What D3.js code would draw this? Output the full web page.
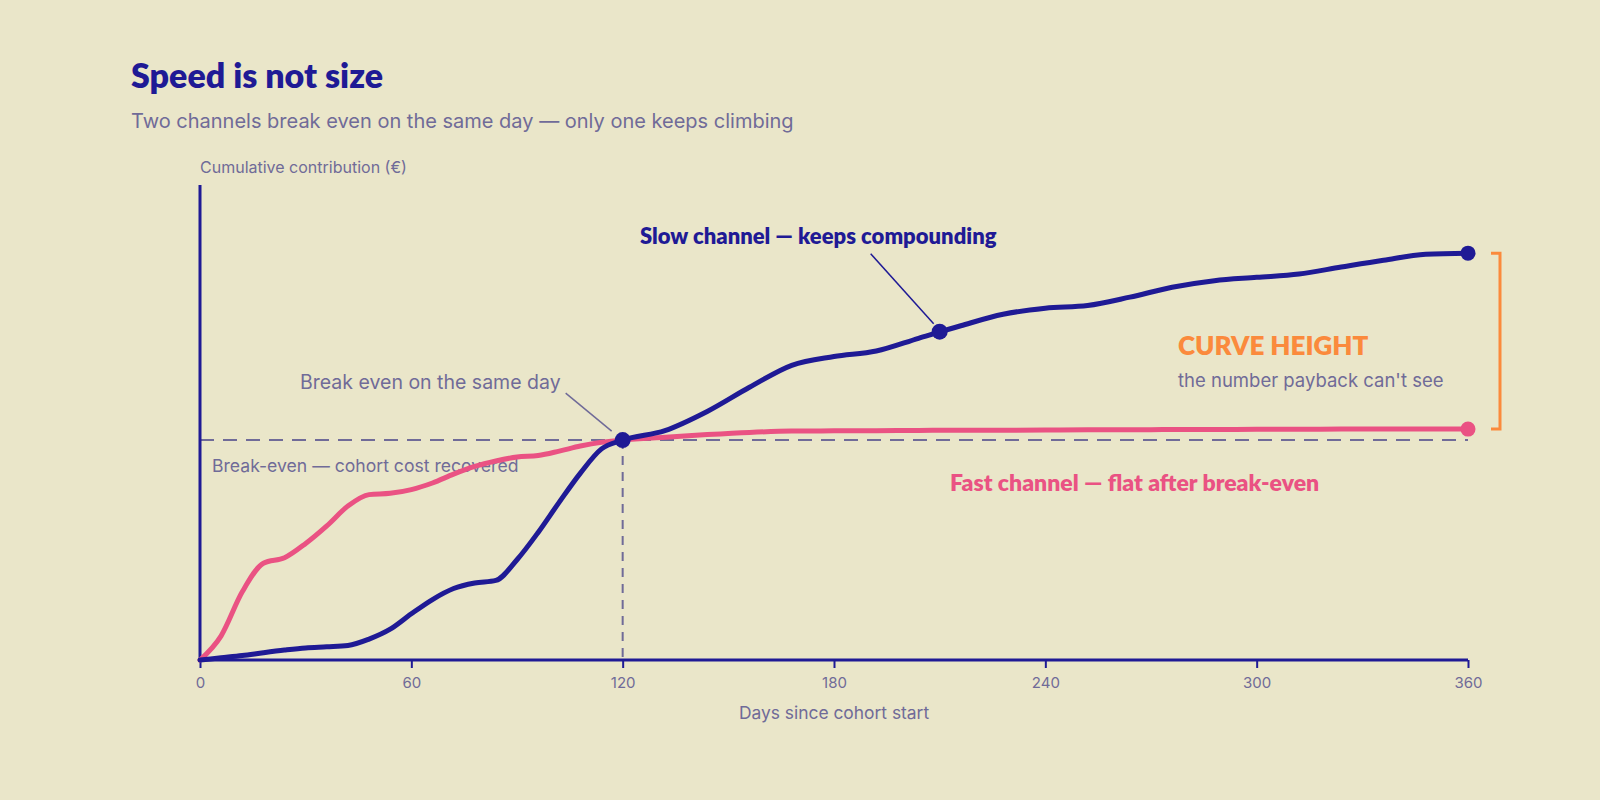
<!DOCTYPE html>
<html>
<head>
<meta charset="utf-8">
<script src="https://cdn.jsdelivr.net/npm/d3@7"></script>
<style>
  html, body { margin: 0; padding: 0; background: #eae6c9; }
  svg { display: block; font-family: "Inter", "Lato", sans-serif; }
  .bold { font-family: "Lato", sans-serif; font-weight: 800; }
</style>
</head>
<body>
<svg id="chart" width="1600" height="800"></svg>
<script>
// ---------- DATA ----------
const days = [0, 6, 12, 18, 24, 30, 36, 42, 48, 54, 60, 66, 72, 78, 84, 90, 96, 102, 108, 114, 120,
  132, 144, 156, 168, 180, 192, 204, 216, 228, 240, 252, 264, 276, 288, 300, 312, 324, 336, 348, 360];
const fastValues = [0, 11, 31, 44, 46.5, 53, 61, 70, 75.2, 75.8, 77.5, 80.5, 84.5, 88, 90.5, 92.3, 93, 95, 97.3, 99, 100,
  101.3, 102.5, 103.5, 104.1, 104.2, 104.3, 104.4, 104.5, 104.5, 104.6, 104.7, 104.7, 104.8, 104.8, 104.9, 104.9, 105, 105, 105, 105];
const slowValues = [0, 1, 2, 3.3, 4.5, 5.5, 6, 6.6, 9.5, 14, 21, 27.5, 32.5, 35, 36.2, 45.6, 58, 71.8, 85, 96, 100,
  104.3, 113, 124, 134, 138, 140.5, 146.3, 152, 157.2, 160, 161.2, 165, 169.5, 172.5, 174, 175.5, 178.7, 181.8, 184.5, 185];
const xTicks = [0, 60, 120, 180, 240, 300, 360];
const breakEvenValue = 100;
const breakEvenDay = 120;
const slowMarkerDay = 210;
const slowMarkerValue = 149.3;
const yMax = 216;

const titleText = "Speed is not size";
const subtitleText = "Two channels break even on the same day \u2014 only one keeps climbing";
const yAxisLabel = "Cumulative contribution (\u20AC)";
const xAxisLabel = "Days since cohort start";
const breakEvenLabel = "Break-even \u2014 cohort cost recovered";
const sameDayLabel = "Break even on the same day";
const slowLabel = "Slow channel \u2014 keeps compounding";
const fastLabel = "Fast channel \u2014 flat after break-even";
const gapTitle = "CURVE HEIGHT";
const gapSub = "the number payback can't see";

// ---------- STYLE ----------
const C = {
  bg: "#eae6c9", navy: "#1f1a95", pink: "#ea5283", orange: "#fb8a3c", gray: "#706b98"
};

const svg = d3.select("#chart");
svg.append("rect").attr("width", 1600).attr("height", 800).attr("fill", C.bg);

const m = { left: 200, right: 1468, top: 185, bottom: 660 };
const x = d3.scaleLinear().domain([0, 360]).range([m.left, m.right]);
const y = d3.scaleLinear().domain([0, yMax]).range([m.bottom, m.top]);

// Titles
svg.append("text").attr("class", "bold").attr("x", 131).attr("y", 88).text(titleText)
  .attr("font-size", 34).attr("fill", C.navy);
svg.append("text").attr("x", 131).attr("y", 128).text(subtitleText)
  .attr("font-size", 20).attr("fill", C.gray);
svg.append("text").attr("x", 200).attr("y", 173).text(yAxisLabel)
  .attr("font-size", 16).attr("fill", C.gray);

// Break-even dashed line
svg.append("line")
  .attr("x1", x(0)).attr("x2", x(360))
  .attr("y1", y(breakEvenValue)).attr("y2", y(breakEvenValue))
  .attr("stroke", C.gray).attr("stroke-width", 2).attr("stroke-dasharray", "14,9");
// Vertical dashed line at break-even day
svg.append("line")
  .attr("x1", x(breakEvenDay)).attr("x2", x(breakEvenDay))
  .attr("y1", y(breakEvenValue)).attr("y2", y(0))
  .attr("stroke", C.gray).attr("stroke-width", 2).attr("stroke-dasharray", "9,7");

svg.append("text").attr("x", 212).attr("y", 472).text(breakEvenLabel)
  .attr("font-size", 17.6).attr("fill", C.gray);

// Axes
const xAxis = d3.axisBottom(x).tickValues(xTicks).tickSize(8).tickPadding(9);
const gx = svg.append("g").attr("transform", `translate(0,${m.bottom})`).call(xAxis);
gx.select(".domain").attr("stroke", C.navy).attr("stroke-width", 3).attr("d", `M${m.left},0H${m.right}`);
gx.selectAll(".tick line").attr("stroke", C.navy).attr("stroke-width", 2);
gx.selectAll(".tick text").attr("fill", C.gray).attr("font-size", 15).attr("font-family", "Inter, sans-serif");

svg.append("line").attr("x1", m.left).attr("x2", m.left)
  .attr("y1", m.top).attr("y2", m.bottom + 1.5)
  .attr("stroke", C.navy).attr("stroke-width", 3);

svg.append("text").attr("x", (m.left + m.right) / 2).attr("y", 719)
  .attr("text-anchor", "middle").text(xAxisLabel)
  .attr("font-size", 17.4).attr("fill", C.gray);

// Lines
const line = d3.line().x(d => x(d[0])).y(d => y(d[1])).curve(d3.curveMonotoneX);
const fastData = days.map((d, i) => [d, fastValues[i]]);
const slowData = days.map((d, i) => [d, slowValues[i]]);

svg.append("path").datum(fastData).attr("d", line)
  .attr("fill", "none").attr("stroke", C.pink).attr("stroke-width", 5)
  .attr("stroke-linejoin", "round").attr("stroke-linecap", "round");
svg.append("path").datum(slowData).attr("d", line)
  .attr("fill", "none").attr("stroke", C.navy).attr("stroke-width", 5)
  .attr("stroke-linejoin", "round").attr("stroke-linecap", "round");

// End dots
svg.append("circle").attr("cx", x(360)).attr("cy", y(fastValues[fastValues.length - 1])).attr("r", 7.5).attr("fill", C.pink);
svg.append("circle").attr("cx", x(360)).attr("cy", y(slowValues[slowValues.length - 1])).attr("r", 7.5).attr("fill", C.navy);

// Break-even dot & annotation
svg.append("circle").attr("cx", x(breakEvenDay)).attr("cy", y(breakEvenValue)).attr("r", 8).attr("fill", C.navy);
svg.append("line")
  .attr("x1", x(breakEvenDay) - 57).attr("y1", y(breakEvenValue) - 47)
  .attr("x2", x(breakEvenDay) - 11).attr("y2", y(breakEvenValue) - 9)
  .attr("stroke", C.gray).attr("stroke-width", 1.5);
svg.append("text").attr("x", 300).attr("y", 389).text(sameDayLabel)
  .attr("font-size", 19.5).attr("fill", C.gray);

// Slow marker & annotation
svg.append("circle").attr("cx", x(slowMarkerDay)).attr("cy", y(slowMarkerValue)).attr("r", 8).attr("fill", C.navy);
svg.append("line")
  .attr("x1", x(slowMarkerDay) - 69).attr("y1", y(slowMarkerValue) - 78)
  .attr("x2", x(slowMarkerDay) - 6).attr("y2", y(slowMarkerValue) - 8)
  .attr("stroke", C.navy).attr("stroke-width", 1.5);
svg.append("text").attr("class", "bold").attr("x", 640).attr("y", 244).text(slowLabel)
  .attr("font-size", 22).attr("fill", C.navy);

// Fast label
svg.append("text").attr("class", "bold").attr("x", 950).attr("y", 491).text(fastLabel)
  .attr("font-size", 23).attr("fill", C.pink);

// Curve height bracket
const bx = 1500;
const yTop = y(slowValues[slowValues.length - 1]);
const yBot = y(fastValues[fastValues.length - 1]);
svg.append("path")
  .attr("d", `M${bx - 9},${yTop}H${bx}V${yBot}H${bx - 9}`)
  .attr("fill", "none").attr("stroke", C.orange).attr("stroke-width", 3);
svg.append("text").attr("class", "bold").attr("x", 1178).attr("y", 355).text(gapTitle)
  .attr("font-size", 26).attr("fill", C.orange);
svg.append("text").attr("x", 1178).attr("y", 387).text(gapSub)
  .attr("font-size", 18.5).attr("fill", C.gray);
</script>
</body>
</html>
